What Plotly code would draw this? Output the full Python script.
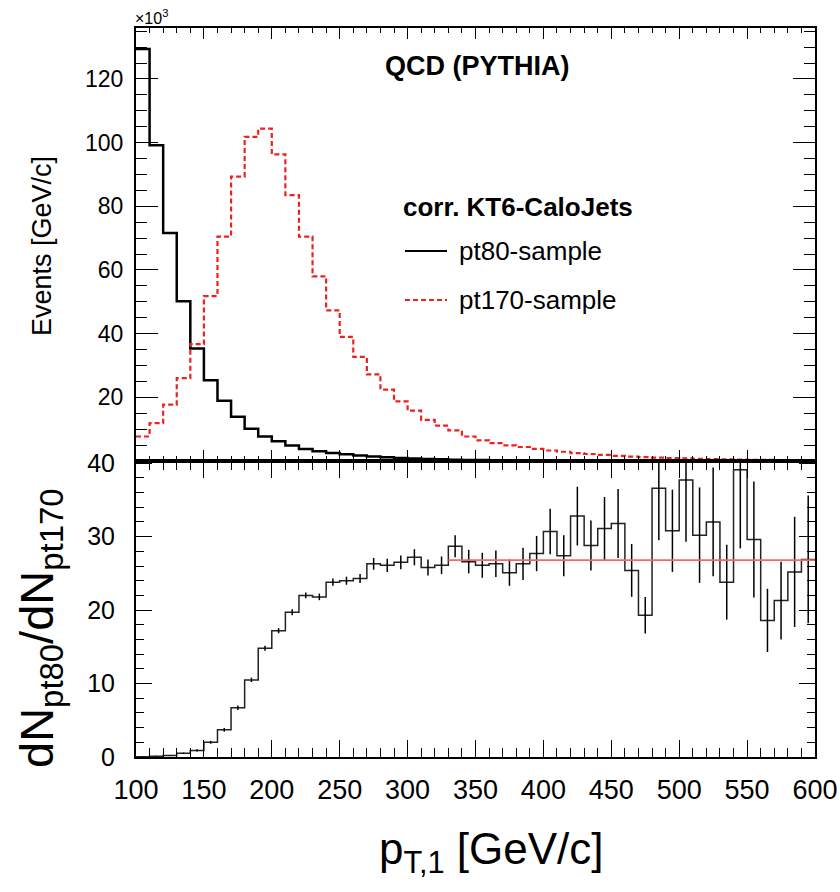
import plotly.graph_objects as go

# ---------------- data ----------------
bin_edges = list(range(100, 610, 10))          # pT bins [GeV/c]

pt80_events = [129.4, 99.2, 71.6, 50.2, 35.3, 25.4, 18.9, 13.9, 10.1, 7.7,
               6.2, 4.9, 3.8, 3.1, 2.5, 2.1, 1.7, 1.4, 1.15, 0.95,
               0.78, 0.64, 0.52, 0.43, 0.35, 0.29, 0.24, 0.2, 0.16, 0.13,
               0.11, 0.09, 0.075, 0.06, 0.05, 0.04, 0.034, 0.028, 0.023, 0.019,
               0.016, 0.013, 0.011, 0.009, 0.0075, 0.006, 0.005, 0.004, 0.0035, 0.003]

pt170_events = [7.7, 11.9, 17.7, 26.0, 36.7, 51.8, 70.5, 89.3, 101.8, 104.4,
                96.3, 83.5, 70.5, 58.0, 47.3, 39.0, 32.7, 27.2, 22.4, 18.75,
                15.8, 12.9, 11.1, 9.6, 7.7, 6.5, 5.6, 4.9, 4.4, 3.8,
                3.3, 2.9, 2.5, 2.2, 1.9, 1.6, 1.4, 1.2, 1.05, 0.9,
                0.8, 0.7, 0.6, 0.52, 0.45, 0.4, 0.35, 0.3, 0.26, 0.22]

ratio = [0.05, 0.1, 0.2, 0.5, 0.9, 2.0, 3.7, 6.7, 10.5, 14.8,
         17.2, 19.7, 22.0, 21.8, 23.8, 24.0, 24.3, 26.3, 26.1, 26.5,
         27.2, 25.8, 26.1, 28.7, 26.6, 26.1, 26.3, 25.1, 26.3, 27.7,
         30.7, 27.4, 32.8, 28.8, 31.1, 31.8, 25.4, 19.3, 36.6, 30.8,
         37.7, 30.2, 32.0, 23.8, 39.1, 29.6, 18.6, 21.3, 25.2, 26.9]

ratio_err = [0.02, 0.05, 0.08, 0.1, 0.15, 0.2, 0.25, 0.3, 0.3, 0.35,
             0.35, 0.4, 0.4, 0.45, 0.5, 0.55, 0.6, 0.8, 0.9, 0.95,
             1.1, 1.1, 1.2, 1.5, 1.6, 1.7, 1.8, 1.8, 2.2, 2.4,
             3.1, 2.8, 4.0, 3.4, 4.3, 4.7, 3.6, 2.5, 7.1, 5.6,
             8.4, 6.5, 7.4, 5.1, 10.7, 7.9, 4.3, 5.3, 7.5, 8.7]

fit_x = [330, 600]
fit_value = 26.8

# ---------------- geometry ----------------
W, H = 840, 892
ML, MR, MT, MB = 136, 25, 28, 135
PW, PH = W - ML - MR, H - MT - MB
split = (757 - 461) / PH

def pxx(x):
    return (x - ML) / PW

def pxy(y):
    return (H - MB - y) / PH

FONT = "Liberation Sans, Arial, Helvetica, sans-serif"

def step(vals):
    return list(bin_edges), list(vals) + [vals[-1]]

centers = [e + 5 for e in bin_edges[:-1]]

fig = go.Figure()

x, y = step(pt80_events)
fig.add_trace(go.Scatter(x=x, y=y, mode="lines", line=dict(color="black", width=2.5, shape="hv"),
                         name="pt80-sample", xaxis="x", yaxis="y", showlegend=False))
x, y = step(pt170_events)
fig.add_trace(go.Scatter(x=x, y=y, mode="lines",
                         line=dict(color="#ee2020", width=2.2, shape="hv", dash="5px,3px"),
                         name="pt170-sample", xaxis="x", yaxis="y", showlegend=False))

# ratio panel
x, y = step(ratio)
fig.add_trace(go.Scatter(x=x, y=y, mode="lines", line=dict(color="#222", width=1.5, shape="hv"),
                         xaxis="x2", yaxis="y2", showlegend=False))
fig.add_trace(go.Scatter(x=centers, y=ratio, mode="markers", marker=dict(size=1, color="black"),
                         error_y=dict(type="data", array=ratio_err, visible=True, color="black",
                                      thickness=1.5, width=0),
                         xaxis="x2", yaxis="y2", showlegend=False))
fig.add_trace(go.Scatter(x=fit_x, y=[fit_value, fit_value], mode="lines",
                         line=dict(color="#f06a6a", width=1.6),
                         xaxis="x2", yaxis="y2", showlegend=False))

axis_common = dict(showline=True, linecolor="black", linewidth=2, mirror="ticks",
                   ticks="inside", tickcolor="black", tickwidth=1.3, zeroline=False,
                   showgrid=False, automargin=False,
                   tickfont=dict(family=FONT, color="black"))

fig.update_layout(
    width=W, height=H,
    margin=dict(l=ML, r=MR, t=MT, b=MB, pad=0, autoexpand=False),
    paper_bgcolor="white", plot_bgcolor="white",
    font=dict(family=FONT, color="black"),
    xaxis=dict(**axis_common, domain=[0, 1], anchor="y", range=[100, 600], dtick=50, tick0=100,
               ticklen=11, showticklabels=False, matches="x2",
               minor=dict(dtick=10, ticklen=5, ticks="inside", tickcolor="black", tickwidth=1)),
    yaxis=dict(**axis_common, domain=[split, 1], anchor="x", range=[0, 136],
               tickvals=[20, 40, 60, 80, 100, 120], ticklen=22, ticklabelstandoff=6,
               minor=dict(dtick=5, ticklen=11, ticks="inside", tickcolor="black", tickwidth=1)),
    xaxis2=dict(**axis_common, domain=[0, 1], anchor="y2", range=[100, 600], dtick=50, tick0=100,
                ticklen=17, ticklabelstandoff=8,
                minor=dict(dtick=10, ticklen=9, ticks="inside", tickcolor="black", tickwidth=1)),
    yaxis2=dict(**axis_common, domain=[0, split], anchor="x2", range=[0, 40.3],
                tickvals=[0, 10, 20, 30, 40], ticklen=16, ticklabelstandoff=14,
                minor=dict(dtick=2, ticklen=8, ticks="inside", tickcolor="black", tickwidth=1)),
)
fig.update_layout(xaxis_tickfont_size=27, xaxis2_tickfont_size=27,
                  yaxis_tickfont_size=23, yaxis2_tickfont_size=25)

ann = []
ann.append(dict(text="×10<sup>3</sup>", x=pxx(133), y=pxy(29), xanchor="left", yanchor="bottom",
                font=dict(size=16)))
ann.append(dict(text="<b>QCD (PYTHIA)</b>", x=pxx(477), y=pxy(66), xanchor="center", yanchor="middle",
                font=dict(size=27)))
ann.append(dict(text="<b>corr. KT6-CaloJets</b>", x=pxx(401), y=pxy(207), xanchor="left", yanchor="middle",
                font=dict(size=26)))
ann.append(dict(text="pt80-sample", x=pxx(457), y=pxy(251), xanchor="left", yanchor="middle",
                font=dict(size=26)))
ann.append(dict(text="pt170-sample", x=pxx(457), y=pxy(300), xanchor="left", yanchor="middle",
                font=dict(size=26)))
ann.append(dict(text="Events [GeV/c]", x=pxx(42), y=pxy(246), xanchor="center", yanchor="middle",
                textangle=-90, font=dict(size=27)))
ann.append(dict(text="dN<sub>pt80</sub>/dN<sub>pt170</sub>", x=pxx(40), y=pxy(628),
                xanchor="center", yanchor="middle", textangle=-90, font=dict(size=47)))
ann.append(dict(text="p<sub>T,1</sub> [GeV/c]", x=pxx(491), y=pxy(852), xanchor="center",
                yanchor="middle", font=dict(size=44)))
for a in ann:
    a.update(xref="paper", yref="paper", showarrow=False)
fig.update_layout(annotations=ann)

fig.update_layout(shapes=[
    dict(type="line", xref="paper", yref="paper", x0=pxx(405), x1=pxx(447), y0=pxy(251), y1=pxy(251),
         line=dict(color="black", width=2.2)),
    dict(type="line", xref="paper", yref="paper", x0=pxx(405), x1=pxx(447), y0=pxy(300), y1=pxy(300),
         line=dict(color="#ee2020", width=2.2, dash="5px,3px")),
])

fig.write_html("out.html")
